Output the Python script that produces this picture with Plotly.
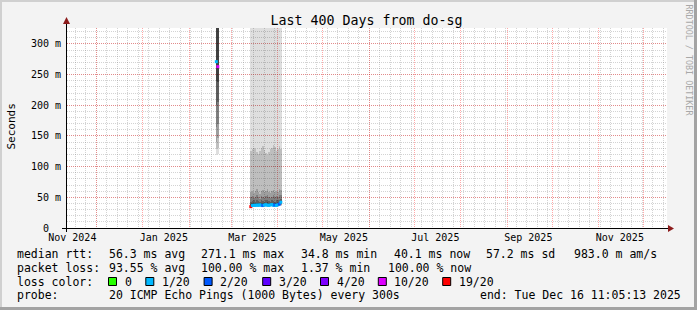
import plotly.graph_objects as go
import pandas as pd

# ---------------- data ----------------
dates = ["2025-02-19", "2025-02-20",
         "2025-03-14", "2025-03-15", "2025-03-16", "2025-03-17", "2025-03-18",
         "2025-03-19", "2025-03-20", "2025-03-21", "2025-03-22", "2025-03-23",
         "2025-03-24", "2025-03-25", "2025-03-26", "2025-03-27", "2025-03-28",
         "2025-03-29", "2025-03-30", "2025-03-31", "2025-04-01", "2025-04-02",
         "2025-04-03"]

median_ms = [271.1, 263.0,
             34.8, 36.6, 37.2, 36.8, 37.5, 36.9, 37.8, 37.1, 36.6, 37.4, 38.0,
             37.3, 36.9, 37.6, 38.2, 37.0, 37.4, 36.8, 37.9, 39.0, 42.0]

loss_pings = [1, 10,
              19, 1, 1, 1, 1, 1, 1, 1, 2, 1, 1, 1, 1, 1, 1, 1, 2, 1, 1, 2, 1]

# smoke bands (sorted pings, outer pair -> inner pair), ms
band1_lo = [119, 121, 33.8, 34.2, 34.5, 34.0, 34.6, 34.3, 34.8, 34.1, 34.4, 34.7,
            35.0, 34.5, 34.2, 34.9, 35.1, 34.4, 34.6, 34.3, 34.8, 35.2, 36.0]
band1_hi = [520, 510, 460, 470, 455, 480, 465, 450, 475, 470, 460, 485,
            455, 470, 465, 480, 450, 475, 460, 470, 465, 455, 480]
band2_lo = [128, 131, 34.3, 34.8, 35.0, 34.6, 35.1, 34.8, 35.3, 34.7, 35.0, 35.2,
            35.5, 35.0, 34.8, 35.4, 35.6, 34.9, 35.1, 34.9, 35.3, 35.8, 37.0]
band2_hi = [500, 490, 126, 129, 131, 128, 124, 121, 125, 130, 133, 127,
            122, 119, 124, 128, 131, 135, 132, 126, 129, 133, 128]
band3_lo = [140, 146, 34.8, 35.3, 35.6, 35.2, 35.7, 35.4, 35.9, 35.3, 35.6, 35.8,
            36.0, 35.6, 35.4, 36.0, 36.2, 35.5, 35.7, 35.5, 35.9, 36.5, 38.0]
band3_hi = [470, 460, 58, 61, 57, 60, 63, 59, 56, 60, 62, 58,
            61, 64, 59, 57, 60, 62, 58, 61, 59, 63, 62]
band4_lo = [165, 170, 35.2, 35.8, 36.1, 35.7, 36.2, 35.9, 36.4, 35.8, 36.1, 36.3,
            36.5, 36.1, 35.9, 36.5, 36.7, 36.0, 36.2, 36.0, 36.4, 37.0, 39.0]
band4_hi = [430, 420, 50, 52, 49, 51, 53, 50, 48, 52, 51, 49,
            52, 54, 50, 49, 51, 53, 50, 52, 51, 53, 54]
band5_lo = [200, 205, 35.6, 36.2, 36.6, 36.2, 36.7, 36.3, 36.9, 36.3, 36.6, 36.8,
            37.0, 36.6, 36.4, 37.0, 37.2, 36.5, 36.7, 36.5, 36.9, 37.6, 40.0]
band5_hi = [390, 380, 43, 44, 45, 43, 46, 44, 43, 45, 44, 43,
            45, 46, 44, 43, 45, 44, 43, 45, 45, 46, 47]
band6_lo = [240, 238, 36.0, 36.6, 37.0, 36.6, 37.2, 36.8, 37.4, 36.8, 37.1, 37.3,
            37.5, 37.1, 36.9, 37.5, 37.7, 37.0, 37.2, 37.0, 37.4, 38.2, 41.0]
band6_hi = [345, 340, 39.5, 40.0, 41.0, 40.0, 41.5, 40.5, 40.0, 41.0, 40.5, 40.0,
            41.0, 42.0, 40.5, 40.0, 41.0, 41.5, 40.0, 41.0, 41.5, 42.0, 44.0]

y_tick_vals = [0, 50, 100, 150, 200, 250, 300]
y_tick_text = ["0\u00a0\u00a0", "50 m", "100 m", "150 m", "200 m", "250 m", "300 m"]

x_label_dates = ["2024-11-15", "2025-01-15", "2025-03-15", "2025-05-15",
                 "2025-07-15", "2025-09-15", "2025-11-15"]
x_label_text = ["Nov 2024", "Jan 2025", "Mar 2025", "May 2025",
                "Jul 2025", "Sep 2025", "Nov 2025"]

loss_levels = [0, 1, 2, 3, 4, 10, 19]
loss_colors = ["#26ff00", "#00b8ff", "#0059ff", "#5e00ff", "#7e00ff", "#dd00ff", "#ff0000"]
loss_labels = ["0", "1/20", "2/20", "3/20", "4/20", "10/20", "19/20"]

title_text = "Last 400 Days from do-sg"
stats_rtt = ["median rtt:", "56.3 ms avg", "271.1 ms max", "34.8 ms min",
             "40.1 ms now", "57.2 ms sd", "983.0 m am/s"]
stats_loss = ["packet loss:", "93.55 % avg", "100.00 % max", "1.37 % min", "100.00 % now"]
probe_text = ["probe:", "20 ICMP Echo Pings (1000 Bytes) every 300s",
              "end: Tue Dec 16 11:05:13 2025"]

x_start = "2024-11-11 11:05:13"
x_end = "2025-12-16 11:05:13"
y_max = 326

# ---------------- geometry helpers ----------------
W, H = 697, 310
PL, PR, PT, PB = 67, 667, 28, 228


def fx(p):
    return (p - PL) / (PR - PL)


def fy(p):
    return (PB - p) / (PB - PT)


MONO = "DejaVu Sans Mono"

fig = go.Figure()

bands = [(band1_lo, band1_hi), (band2_lo, band2_hi), (band3_lo, band3_hi),
         (band4_lo, band4_hi), (band5_lo, band5_hi), (band6_lo, band6_hi)]
alphas = [0.13, 0.14, 0.17, 0.20, 0.25, 0.30]
for (lo, hi), a in zip(bands, alphas):
    fig.add_trace(go.Bar(
        x=dates, base=lo, y=[h - l for h, l in zip(hi, lo)],
        width=86400000, marker=dict(color=f"rgba(0,0,0,{a})", line=dict(width=0)),
        hoverinfo="skip", showlegend=False))

cmap = dict(zip(loss_levels, loss_colors))
fig.add_trace(go.Scatter(
    x=dates, y=median_ms, mode="markers",
    marker=dict(symbol="square", size=3, color=[cmap[l] for l in loss_pings],
                line=dict(width=0)),
    hoverinfo="skip", showlegend=False))

# helper trace for label axis
fig.add_trace(go.Scatter(x=x_label_dates, y=[None] * len(x_label_dates), xaxis="x2",
                         mode="markers", hoverinfo="skip", showlegend=False))

month_starts = [d.strftime("%Y-%m-%d") for d in pd.date_range("2024-12-01", "2025-12-01", freq="MS")]
week_lines = [d.strftime("%Y-%m-%d") for d in pd.date_range("2024-11-17", "2025-12-14", freq="7D")]

RED_GRID = "rgba(255,0,0,0.34)"
GRAY_GRID = "rgba(110,110,110,0.30)"

fig.update_layout(
    width=W, height=H,
    margin=dict(l=PL, r=W - PR, t=PT, b=H - PB, pad=0),
    paper_bgcolor="#f3f3f3", plot_bgcolor="#ffffff",
    barmode="overlay", bargap=0, showlegend=False,
    font=dict(family=MONO, size=10, color="#000000"),
    title=dict(text=title_text, x=348 / W, xanchor="center", xref="paper",
               y=1 - 20 / H, yanchor="middle", yref="container",
               font=dict(family=MONO, size=13.3, color="#000000")),
    xaxis=dict(type="date", range=[x_start, x_end], tickmode="array",
               tickvals=month_starts, showticklabels=False, ticks="",
               showgrid=True, gridcolor=RED_GRID, griddash="1px,1px", gridwidth=1,
               zeroline=False, showline=False,
               minor=dict(tickmode="array", tickvals=week_lines, showgrid=True,
                          gridcolor=GRAY_GRID, griddash="1px,1px", gridwidth=1, ticks="")),
    xaxis2=dict(type="date", range=[x_start, x_end], overlaying="x", anchor="y",
                side="bottom", tickmode="array", tickvals=x_label_dates,
                ticktext=x_label_text, ticks="", showgrid=False, zeroline=False,
                showline=False, ticklabelstandoff=2,
                tickfont=dict(family=MONO, size=10, color="#000000")),
    yaxis=dict(range=[0, y_max], tickmode="array", tickvals=y_tick_vals,
               ticktext=y_tick_text, ticks="", showgrid=True, gridcolor=RED_GRID,
               griddash="1px,1px", gridwidth=1, zeroline=False, showline=False,
               ticklabelstandoff=5,
               tickfont=dict(family=MONO, size=10, color="#000000"),
               minor=dict(dtick=10, tick0=0, showgrid=True, gridcolor=GRAY_GRID,
                          griddash="1px,1px", gridwidth=1, ticks="")),
)

shapes = []
# canvas border
shapes.append(dict(type="rect", xref="paper", yref="paper", x0=fx(0), x1=fx(W), y0=fy(0), y1=fy(2),
                   fillcolor="#d0d0d0", line=dict(width=0), layer="below"))
shapes.append(dict(type="rect", xref="paper", yref="paper", x0=fx(0), x1=fx(2), y0=fy(0), y1=fy(H),
                   fillcolor="#d0d0d0", line=dict(width=0), layer="below"))
shapes.append(dict(type="rect", xref="paper", yref="paper", x0=fx(0), x1=fx(W), y0=fy(H - 3), y1=fy(H),
                   fillcolor="#a3a3a3", line=dict(width=0), layer="below"))
shapes.append(dict(type="rect", xref="paper", yref="paper", x0=fx(W - 3), x1=fx(W), y0=fy(0), y1=fy(H),
                   fillcolor="#a3a3a3", line=dict(width=0), layer="below"))
# axes
shapes.append(dict(type="line", xref="paper", yref="paper", x0=fx(62), x1=fx(670), y0=fy(228.5), y1=fy(228.5),
                   line=dict(color="#000000", width=1)))
shapes.append(dict(type="line", xref="paper", yref="paper", x0=fx(66.5), x1=fx(66.5), y0=fy(232), y1=fy(22),
                   line=dict(color="#000000", width=1)))
# arrow heads
shapes.append(dict(type="path", xref="paper", yref="paper",
                   path=f"M {fx(668)},{fy(225)} L {fx(674)},{fy(228.5)} L {fx(668)},{fy(232)} Z",
                   fillcolor="#8c1c1c", line=dict(width=0)))
shapes.append(dict(type="path", xref="paper", yref="paper",
                   path=f"M {fx(63)},{fy(24)} L {fx(66.5)},{fy(17)} L {fx(70)},{fy(24)} Z",
                   fillcolor="#8c1c1c", line=dict(width=0)))

annotations = []


def txt(s, x, y, size=11.5, **kw):
    d = dict(text=s, x=fx(x), y=fy(y), xref="paper", yref="paper", showarrow=False,
             xanchor="left", yanchor="middle", borderpad=0,
             font=dict(family=MONO, size=size, color="#000000"))
    d.update(kw)
    annotations.append(d)


row_y = [254, 268, 281.5, 295]
for s, x in zip(stats_rtt, [16, 107.6, 200, 300, 393, 485, 573]):
    txt(s, x, row_y[0])
for s, x in zip(stats_loss, [16, 107.6, 200, 300, 386.7]):
    txt(s, x, row_y[1])
txt("loss color:", 16, row_y[2])
box_x = [108, 145.3, 203.6, 262.2, 320, 377.8, 442.2]
for bx, c, lab in zip(box_x, loss_colors, loss_labels):
    shapes.append(dict(type="rect", xref="paper", yref="paper",
                       x0=fx(bx + 0.5), x1=fx(bx + 8.5), y0=fy(277.5), y1=fy(285.5),
                       fillcolor=c, line=dict(color="#000000", width=1)))
    txt(lab, bx + 15.5, row_y[2])
for s, x in zip(probe_text, [16, 107.6, 478.7]):
    txt(s, x, row_y[3])

# y axis title
annotations.append(dict(text="Seconds", x=fx(10.5), y=fy(127), xref="paper", yref="paper",
                        showarrow=False, textangle=-90, xanchor="center", yanchor="middle",
                        font=dict(family=MONO, size=11, color="#000000")))
# watermark
annotations.append(dict(text="RRDTOOL / TOBI OETIKER", x=fx(688.5), y=fy(60), xref="paper", yref="paper",
                        showarrow=False, textangle=90, xanchor="center", yanchor="middle",
                        font=dict(family=MONO, size=8.4, color="#a8a8a8")))

fig.update_layout(shapes=shapes, annotations=annotations)

fig.write_html("out.html")
